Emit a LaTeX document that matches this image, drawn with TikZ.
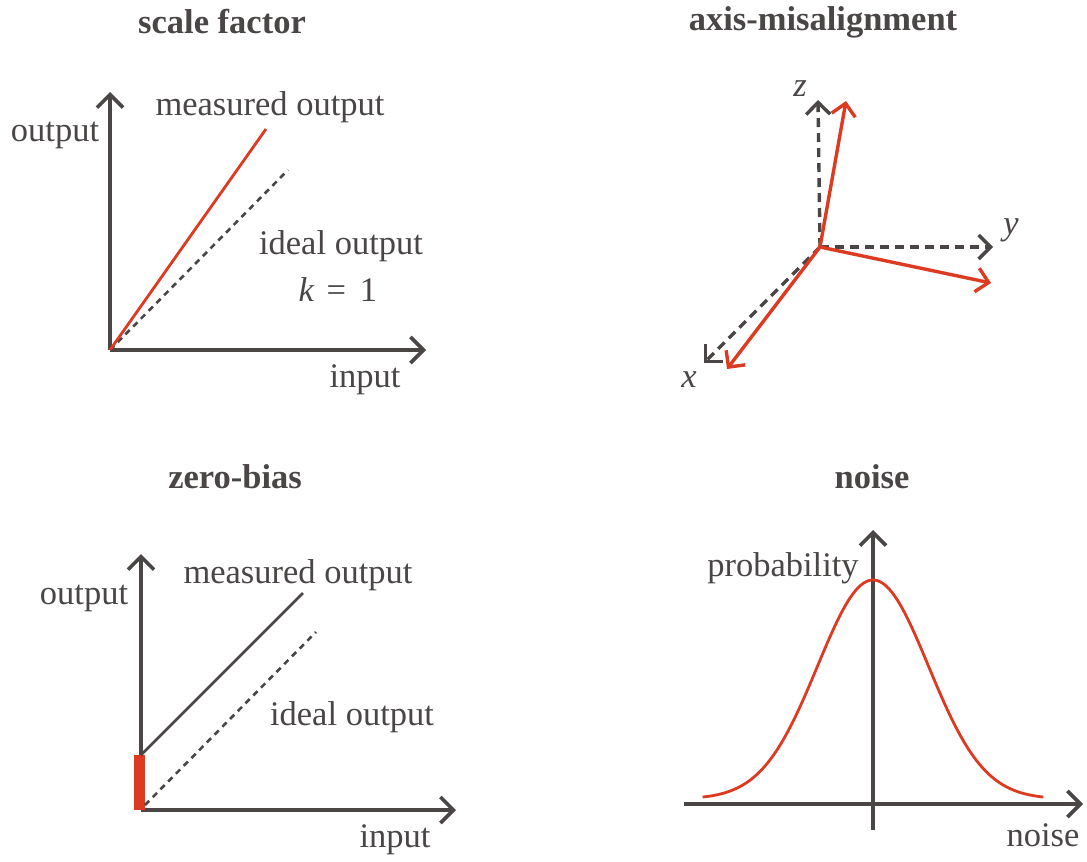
\documentclass[tikz,border=0pt]{standalone}
\usepackage{fontspec}
\setmainfont{Liberation Serif}
\usetikzlibrary{arrows.meta}
\definecolor{ink}{HTML}{4A4646}
\definecolor{redl}{HTML}{DD3A22}
\tikzset{
  lbl/.style={text=ink, font=\fontsize{34.5}{40}\selectfont, inner sep=0pt},
  ttl/.style={text=ink, font=\fontsize{34.5}{40}\selectfont\bfseries, inner sep=0pt},
  axis/.style={draw=ink, line width=3.6pt, -{Straight Barb[length=13pt,width=26pt,line width=3.6pt]}},
  idealline/.style={draw=ink, line width=2.6pt, dash pattern=on 6pt off 5pt},
  measred/.style={draw=redl, line width=2.8pt},
  measblack/.style={draw=ink, line width=2.8pt},
  dax/.style={draw=ink, line width=3.4pt, dash pattern=on 9pt off 6pt, -{Straight Barb[length=12pt,width=24pt,line width=3.4pt]}},
  rax/.style={draw=redl, line width=3.4pt, -{Straight Barb[length=12pt,width=24pt,line width=3.4pt]}},
}
\begin{document}
\begin{tikzpicture}[x=1pt,y=-1pt]
\useasboundingbox[fill=white] (0,0) rectangle (1087,862);
% ---------- panel 1: scale factor
\node[ttl] (t1) at (222,22) {scale factor};
\coordinate (o1) at (110,350);
\coordinate (y1) at (110,92);
\coordinate (x1) at (426,350);
\coordinate (m1) at (266,129);
\coordinate (i1) at (288,170);
\draw[axis] (o1) -- (y1);
\draw[axis] (o1) -- (x1);
\draw[idealline] (o1) -- (i1);
\draw[measred] (o1) -- (m1);
\node[lbl] (out1) at (55,135) {output};
\node[lbl] (mo1) at (270,107) {measured output};
\node[lbl] (io1) at (341,246) {ideal output};
\node[lbl] (k1) at (338,290) {\textit{k}\hspace{12pt}=\hspace{14pt}1};
\node[lbl] (in1) at (365,380) {input};
% ---------- panel 2: axis misalignment
\node[ttl] (t2) at (823,22) {axis-misalignment};
\coordinate (o2) at (820,247);
\coordinate (dz) at (818,100);
\coordinate (dy) at (993,247);
\coordinate (dx) at (704,363);
\coordinate (rz) at (846,101);
\coordinate (ry) at (991,283);
\coordinate (rx) at (727,369);
\draw[dax] (o2) -- (dz);
\draw[dax] (o2) -- (dy);
\draw[dax] (o2) -- (dx);
\draw[rax] (o2) -- (rz);
\draw[rax] (o2) -- (ry);
\draw[rax] (o2) -- (rx);
\node[lbl] (lz) at (800,89) {\textit{z}};
\node[lbl] (ly) at (1011,230) {\textit{y}};
\node[lbl] (lx) at (689,380) {\textit{x}};
% ---------- panel 3: zero-bias
\node[ttl] (t3) at (235,477) {zero-bias};
\coordinate (o3) at (141,810);
\coordinate (y3) at (141,554);
\coordinate (x3) at (456,810);
\coordinate (b3) at (141,755);
\coordinate (m3) at (303,593);
\coordinate (s3) at (145,805);
\coordinate (i3) at (316,632);
\draw[axis] (o3) -- (y3);
\draw[axis] (o3) -- (x3);
\fill[redl] (134,755) rectangle (145,810);
\draw[idealline] (s3) -- (i3);
\draw[measblack] (b3) -- (m3);
\node[lbl] (out3) at (84,598) {output};
\node[lbl] (mo3) at (298,575) {measured output};
\node[lbl] (io3) at (352,717) {ideal output};
\node[lbl] (in3) at (395,840) {input};
% ---------- panel 4: noise
\node[ttl] (t4) at (872,477) {noise};
\coordinate (yb4) at (873,830);
\coordinate (y4) at (873,530);
\coordinate (xa4) at (684,804);
\coordinate (x4) at (1083,804);
\draw[axis] (yb4) -- (y4);
\draw[axis] (xa4) -- (x4);
\draw[draw=redl, line width=2.8pt, domain=-3.07:3.07, samples=120, smooth]
  plot ({873+55.5*\x},{799-219*exp(-(\x)^2/2)});
\node[lbl] (p4) at (783,568) {probability};
\node[lbl] (n4) at (1043,835) {noise};
\end{tikzpicture}
\end{document}
